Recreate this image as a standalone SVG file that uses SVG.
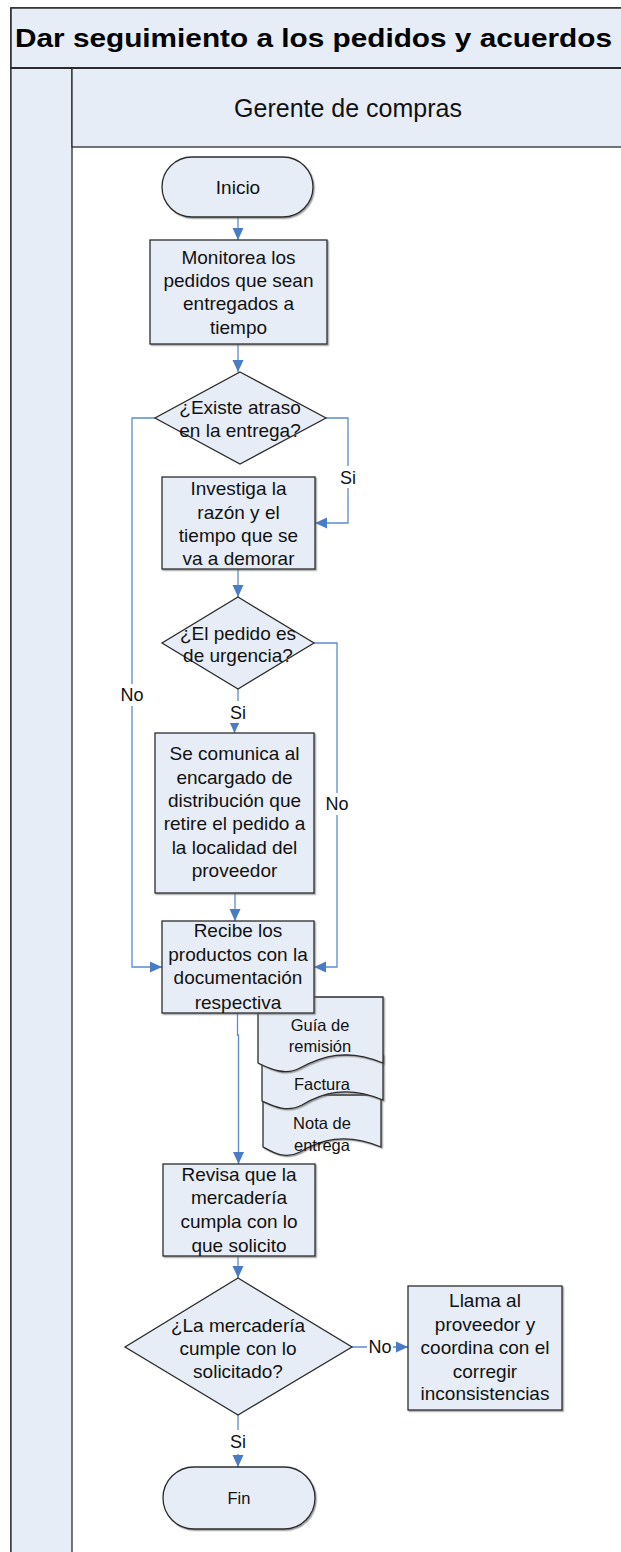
<svg xmlns="http://www.w3.org/2000/svg" width="621" height="1552" viewBox="0 0 621 1552">
<defs>
<style>
.n{fill:#E7EDF7;stroke:#2b2b2b;stroke-width:1.3}
.t{font-family:"Liberation Sans",Arial,sans-serif;font-size:19px;fill:#111;text-anchor:middle}
.s{font-size:16.5px}
.c{fill:none;stroke:#5B8BD0;stroke-width:1.3}
.lb{font-family:"Liberation Sans",Arial,sans-serif;font-size:18px;fill:#111;text-anchor:middle}
.bg{fill:#fff}
.sh{filter:url(#shadow)}
</style>
<filter id="shadow" x="-5%" y="-5%" width="115%" height="115%">
<feDropShadow dx="1.3" dy="1.3" stdDeviation="0.4" flood-color="#666" flood-opacity="0.6"/>
</filter>
<marker id="ah" markerWidth="12" markerHeight="12" refX="12" refY="6" orient="auto" markerUnits="userSpaceOnUse">
<path d="M0,0.5 L12,6 L0,11.5 Z" fill="#4A7CC6"/>
</marker>
</defs>

<g id="frame">
<rect x="11" y="8" width="620" height="1560" fill="#fff" stroke="#2b2b2b" stroke-width="1.5"/>
<rect x="11" y="8" width="620" height="60" fill="#E7EDF7" stroke="#2b2b2b" stroke-width="1.5"/>
<rect x="11" y="68" width="61" height="1500" fill="#E7EDF7" stroke="#2b2b2b" stroke-width="1.3"/>
<rect x="72" y="68" width="560" height="79" fill="#E7EDF7" stroke="#2b2b2b" stroke-width="1.3"/>
<line x1="11" y1="68" x2="631" y2="68" stroke="#2b2b2b" stroke-width="2.2"/>
<text x="15" y="47" font-family="Liberation Sans,Arial,sans-serif" font-weight="bold" font-size="26" fill="#000" textLength="597" lengthAdjust="spacingAndGlyphs">Dar seguimiento a los pedidos y acuerdos</text>
<text x="348" y="117" font-family="Liberation Sans,Arial,sans-serif" font-size="25" fill="#111" text-anchor="middle">Gerente de compras</text>
</g>

<g id="connectors">
<path class="c" d="M238,217 V240" marker-end="url(#ah)"/>
<path class="c" d="M238,344 V372" marker-end="url(#ah)"/>
<path class="c" d="M326,418 H348 V523 H315" marker-end="url(#ah)"/>
<path class="c" d="M155,418 H132 V967 H162" marker-end="url(#ah)"/>
<path class="c" d="M238,569 V597" marker-end="url(#ah)"/>
<path class="c" d="M238,689 V724 H234.5 V733" marker-end="url(#ah)"/>
<path class="c" d="M314,643 H337 V967 H314" marker-end="url(#ah)"/>
<path class="c" d="M235,893 V921" marker-end="url(#ah)"/>
<path class="c" d="M237.5,1013 V1035 H238.5 V1164" marker-end="url(#ah)"/>
<path class="c" d="M238,1256 V1278" marker-end="url(#ah)"/>
<path class="c" d="M352,1347 H408" marker-end="url(#ah)"/>
<path class="c" d="M238,1415 V1467" marker-end="url(#ah)"/>
<rect class="bg" x="337" y="466" width="22" height="22"/>
<text class="lb" x="348" y="484">Si</text>
<rect class="bg" x="118" y="684" width="28" height="22"/>
<text class="lb" x="132" y="701">No</text>
<rect class="bg" x="323" y="793" width="28" height="22"/>
<text class="lb" x="337" y="810">No</text>
<rect class="bg" x="226" y="701" width="24" height="22"/>
<text class="lb" x="238" y="719">Si</text>
<rect class="bg" x="367" y="1337" width="26" height="20"/>
<text class="lb" x="380" y="1353">No</text>
<rect class="bg" x="226" y="1430" width="24" height="24"/>
<text class="lb" x="238" y="1448">Si</text>
</g>

<g id="inicio">
<rect class="n sh" x="162" y="157" width="151" height="60" rx="30"/>
<text class="t" x="238" y="194">Inicio</text>
</g>

<g id="monitorea">
<rect class="n sh" x="150" y="240" width="177" height="104"/>
<text class="t" x="238.5" y="264">Monitorea los</text>
<text class="t" x="238.5" y="287">pedidos que sean</text>
<text class="t" x="238.5" y="310">entregados a</text>
<text class="t" x="238.5" y="334">tiempo</text>
</g>

<g id="decision-atraso">
<polygon class="n" points="240,372 326,418 240,464 155,418"/>
<text class="t" x="240" y="414">¿Existe atraso</text>
<text class="t" x="240" y="437">en la entrega?</text>
</g>

<g id="investiga">
<rect class="n sh" x="162" y="477" width="153" height="92"/>
<text class="t" x="238.5" y="495">Investiga la</text>
<text class="t" x="238.5" y="519">razón y el</text>
<text class="t" x="238.5" y="542">tiempo que se</text>
<text class="t" x="238.5" y="565">va a demorar</text>
</g>

<g id="decision-urgencia">
<polygon class="n" points="238,597 314,643 238,689 162,643"/>
<text class="t" x="238" y="640">¿El pedido es</text>
<text class="t" x="238" y="662">de urgencia?</text>
</g>

<g id="comunica">
<rect class="n sh" x="155" y="733" width="159" height="160"/>
<text class="t" x="234.5" y="760">Se comunica al</text>
<text class="t" x="234.5" y="784">encargado de</text>
<text class="t" x="234.5" y="807">distribución que</text>
<text class="t" x="234.5" y="830">retire el pedido a</text>
<text class="t" x="234.5" y="854">la localidad del</text>
<text class="t" x="234.5" y="877">proveedor</text>
</g>

<g id="nota">
<path class="n sh" d="M263,1095 H381 V1147 C345,1132 320,1140 300,1152 C285,1160 272,1152 263,1147 Z"/>
<text class="t s" x="322" y="1129">Nota de</text>
<text class="t s" x="322" y="1151">entrega</text>
</g>

<g id="factura">
<path class="n sh" d="M262,1055 H383 V1100 C347,1085 322,1093 302,1105 C287,1113 273,1106 262,1101 Z"/>
<text class="t s" x="322" y="1090">Factura</text>
</g>

<g id="guia">
<path class="n sh" d="M258,997 H383 V1063 C347,1048 322,1056 300,1068 C285,1076 270,1069 258,1063 Z"/>
<text class="t s" x="320" y="1031">Guía de</text>
<text class="t s" x="320" y="1052">remisión</text>
</g>

<g id="recibe">
<rect class="n sh" x="162" y="921" width="152" height="92"/>
<text class="t" x="238" y="937">Recibe los</text>
<text class="t" x="238" y="961">productos con la</text>
<text class="t" x="238" y="984">documentación</text>
<text class="t" x="238" y="1009">respectiva</text>
</g>

<g id="revisa">
<rect class="n sh" x="163" y="1164" width="152" height="92"/>
<text class="t" x="239" y="1181">Revisa que la</text>
<text class="t" x="239" y="1204">mercadería</text>
<text class="t" x="239" y="1228">cumpla con lo</text>
<text class="t" x="239" y="1252">que solicito</text>
</g>

<g id="decision-cumple">
<polygon class="n" points="238,1278 352,1347 238,1415 125,1347"/>
<text class="t" x="238" y="1332">¿La mercadería</text>
<text class="t" x="238" y="1355">cumple con lo</text>
<text class="t" x="238" y="1378">solicitado?</text>
</g>

<g id="llama">
<rect class="n sh" x="408" y="1286" width="154" height="124"/>
<text class="t" x="485" y="1307">Llama al</text>
<text class="t" x="485" y="1331">proveedor y</text>
<text class="t" x="485" y="1354">coordina con el</text>
<text class="t" x="485" y="1378">corregir</text>
<text class="t" x="485" y="1400">inconsistencias</text>
</g>

<g id="fin">
<rect class="n sh" x="163" y="1467" width="152" height="62" rx="31"/>
<text class="t" x="239" y="1504" style="font-size:16.5px">Fin</text>
</g>
</svg>
